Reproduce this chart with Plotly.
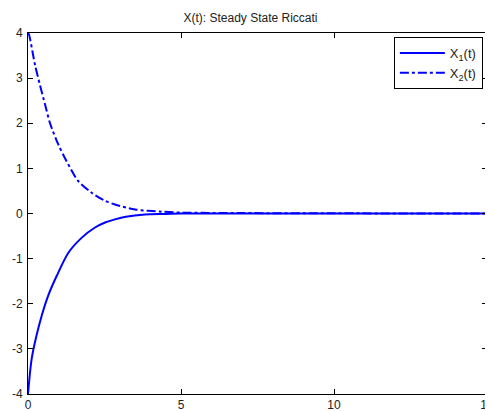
import plotly.graph_objects as go

# Data
t1 = [0, 0.12, 0.28, 0.45, 0.66, 0.94, 1.32, 1.75, 2.19, 2.52, 2.84, 3.2, 3.82, 4.5, 5, 7, 10, 12.5, 15]
x1 = [-4, -3.22, -2.70, -2.26, -1.82, -1.38, -0.87, -0.54, -0.31, -0.20, -0.13, -0.07, -0.02, -0.01, 0, 0, 0, 0, 0]

t2 = [0, 0.03, 0.23, 0.39, 0.56, 0.72, 0.99, 1.26, 1.64, 2.08, 2.52, 2.84, 3.5, 4.37, 5, 7, 10, 12.5, 15]
x2 = [4, 3.97, 3.29, 2.85, 2.41, 2.0, 1.53, 1.16, 0.72, 0.46, 0.28, 0.20, 0.09, 0.04, 0.02, 0.01, 0.005, 0, 0]

xticks = [0, 5, 10, 15]
yticks = [-4, -3, -2, -1, 0, 1, 2, 3, 4]

blue = "#0000ff"
fig = go.Figure()
fig.add_trace(go.Scatter(x=t1, y=x1, mode="lines", name="X<sub>1</sub>(t)",
                         line=dict(color=blue, width=2, shape="spline", smoothing=0.8)))
fig.add_trace(go.Scatter(x=t2, y=x2, mode="lines", name="X<sub>2</sub>(t)",
                         line=dict(color=blue, width=2, dash="dashdot", shape="spline", smoothing=0.8)))

axis_common = dict(showgrid=False, zeroline=False, showline=True, linecolor="black", linewidth=1,
                   mirror="ticks", ticks="inside", ticklen=5, tickcolor="black", automargin=False,
                   ticklabeloverflow="allow",
                   tickfont=dict(family="Liberation Sans, Arial", size=12, color="#222"))
fig.update_layout(
    width=485, height=403,
    margin=dict(l=20, r=6, t=25, b=17, pad=0),
    paper_bgcolor="white", plot_bgcolor="white",
    title=dict(text="X(t): Steady State Riccati", x=0.5, xanchor="center", y=0.975, yanchor="middle",
               font=dict(family="Liberation Sans, Arial", size=12, color="#222"), automargin=False),
    xaxis=dict(range=[0, 15], tickvals=xticks, ticktext=[str(v) for v in xticks], ticklabelstandoff=0, **axis_common),
    yaxis=dict(range=[-4, 4], tickvals=yticks, ticktext=[str(v) for v in yticks], ticklabelstandoff=2, **axis_common),
    legend=dict(x=0.991, y=0.989, xanchor="right", yanchor="top", bordercolor="black", borderwidth=1,
                bgcolor="white", font=dict(family="Liberation Sans, Arial", size=13, color="#222"),
                tracegroupgap=0, itemwidth=45),
    showlegend=True,
)
fig.write_html("out.html")
